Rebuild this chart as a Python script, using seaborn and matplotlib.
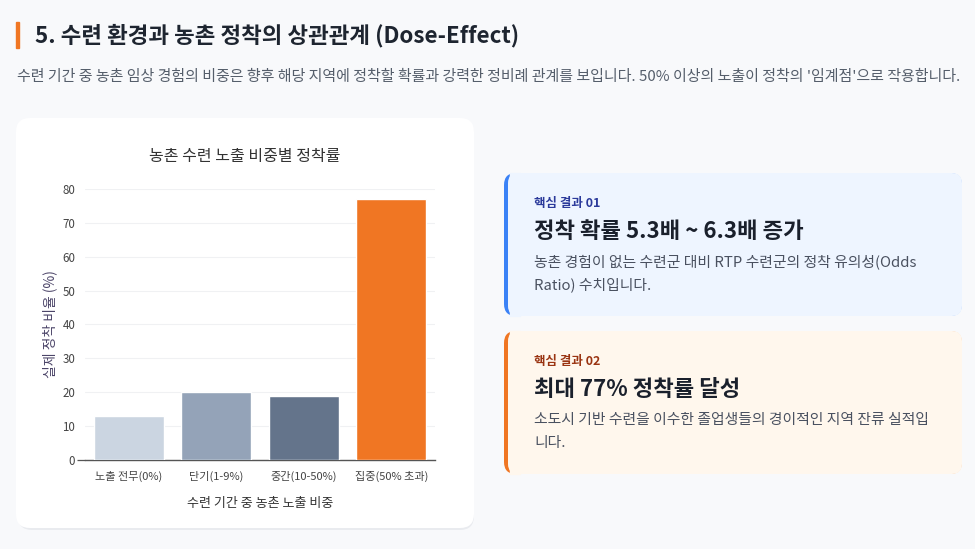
import matplotlib
matplotlib.use("Agg")
import matplotlib.pyplot as plt
import seaborn as sns
import pandas as pd
from matplotlib.patches import FancyBboxPatch, Rectangle

# data
categories = ["노출 전무(0%)", "단기(1-9%)", "중간(10-50%)", "집중(50% 초과)"]
settle_rate = [13, 20, 19, 77]
bar_colors = ["#cbd5e1", "#94a3b8", "#64748b", "#f07623"]
y_ticks = [0, 10, 20, 30, 40, 50, 60, 70, 80]

sns.set_theme(style="white")
plt.rcParams["font.family"] = ["Noto Sans CJK KR", "DejaVu Sans"]

df = pd.DataFrame({"cat": categories, "rate": settle_rate})

fig = plt.figure(figsize=(9.75, 5.49), dpi=100)
fig.patch.set_facecolor("#f8f9fb")
W, H = 975, 549


def box(x0, y0, x1, y1, color, r=12, z=0):
    # pixel coords, y from top
    p = FancyBboxPatch((x0 / W, 1 - y1 / H), (x1 - x0) / W, (y1 - y0) / H,
                       boxstyle=f"round,pad=0,rounding_size={r / W}",
                       transform=fig.transFigure, facecolor=color,
                       edgecolor="none", zorder=z, mutation_aspect=W / H)
    fig.patches.append(p)


# header
fig.patches.append(Rectangle((16 / W, 1 - 48 / H), 3 / W, 26 / H,
                             transform=fig.transFigure, color="#f07623"))
fig.text(35 / W, 1 - 36 / H, "5. 수련 환경과 농촌 정착의 상관관계 (Dose-Effect)",
         fontsize=16.1, fontweight="bold", color="#1e2530", va="center")
fig.text(17 / W, 1 - 77 / H,
         "수련 기간 중 농촌 임상 경험의 비중은 향후 해당 지역에 정착할 확률과 강력한 정비례 관계를 보입니다. "
         "50% 이상의 노출이 정착의 '임계점'으로 작용합니다.",
         fontsize=10.8, color="#555e6b", va="center")

# chart card
box(18, 120, 474, 530, "#e9ebef", r=14, z=0)
box(16, 118, 474, 528, "white", r=14, z=1)
fig.text(245 / W, 1 - 157 / H, "농촌 수련 노출 비중별 정착률", fontsize=11.5,
         color="#333333", ha="center", va="center", zorder=3)

ax = fig.add_axes([85 / W, 1 - 460 / H, 350 / W, 271 / H])
ax.set_zorder(2)
sns.barplot(data=df, x="cat", y="rate", hue="cat", palette=bar_colors,
            legend=False, width=0.8, saturation=1, ax=ax, zorder=3)
ax.set_facecolor("none")
ax.set_xlim(-0.5, 3.5)
ax.set_ylim(0, 80)
ax.set_yticks(y_ticks)
ax.grid(axis="y", color="#f0f1f3", linewidth=0.8, zorder=0)
for s in ["top", "right", "left"]:
    ax.spines[s].set_visible(False)
ax.spines["bottom"].set_color("#555555")
ax.spines["bottom"].set_linewidth(1)
ax.tick_params(axis="y", left=True, length=6, width=0.9, color="#555555",
               labelsize=8.3, labelcolor="#444444", pad=1)
# only the zero tick keeps its dash
for t in ax.yaxis.get_major_ticks()[1:]:
    t.tick1line.set_visible(False)
ax.tick_params(axis="x", bottom=False, labelsize=8, labelcolor="#444444", pad=2)
ax.set_xlabel("수련 기간 중 농촌 노출 비중", fontsize=9.4, color="#333333", labelpad=11)
ax.set_ylabel("실제 정착 비율 (%)", fontsize=10, color="#4b4468", labelpad=4)

# result cards
cards = [
    (173, 316, "#eef5ff", "#3b82f6", "#2b3a9b", "핵심 결과 01", "정착 확률 5.3배 ~ 6.3배 증가",
     ["농촌 경험이 없는 수련군 대비 RTP 수련군의 정착 유의성(Odds", "Ratio) 수치입니다."]),
    (331, 474, "#fff7ed", "#f07623", "#9a3412", "핵심 결과 02", "최대 77% 정착률 달성",
     ["소도시 기반 수련을 이수한 졸업생들의 경이적인 지역 잔류 실적입", "니다."]),
]
for y0, y1, bg, edge, tag_c, tag, head, lines in cards:
    box(504, y0, 962, y1, edge, r=12, z=0)
    box(508, y0, 962, y1, bg, r=10, z=1)
    fig.patches.append(Rectangle((510 / W, 1 - y1 / H), 10 / W, (y1 - y0) / H,
                                 transform=fig.transFigure, color=bg, zorder=1))
    fig.text(534 / W, 1 - (y0 + 31) / H, tag, fontsize=9, fontweight="bold",
             color=tag_c, va="center")
    fig.text(534 / W, 1 - (y0 + 58) / H, head, fontsize=16, fontweight="bold",
             color="#1a202c", va="center")
    for i, ln in enumerate(lines):
        fig.text(534 / W, 1 - (y0 + 89 + 23 * i) / H, ln, fontsize=10.7,
                 color="#4a5160", va="center")

fig.savefig("out.png", dpi=100, facecolor=fig.get_facecolor())
